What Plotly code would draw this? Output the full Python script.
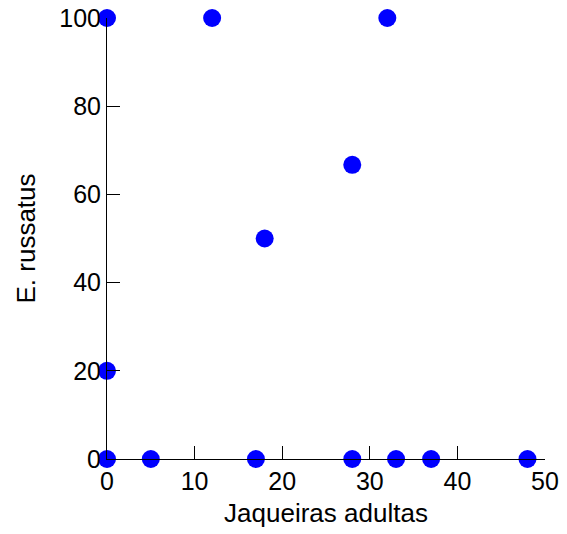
import plotly.graph_objects as go

jaqueiras = [0, 12, 32, 18, 28, 0, 0, 5, 17, 28, 33, 37, 48]
russatus = [100, 100, 100, 50, 66.7, 20, 0, 0, 0, 0, 0, 0, 0]

x_ticks = [0, 10, 20, 30, 40, 50]
y_ticks = [0, 20, 40, 60, 80, 100]

fig = go.Figure(go.Scatter(
    x=jaqueiras, y=russatus, mode="markers",
    marker=dict(color="#0000ff", size=18, line=dict(width=0)),
    cliponaxis=False,
))

font = dict(family="Liberation Sans, Arial, sans-serif", size=26, color="black")
fig.update_layout(
    width=567, height=534,
    margin=dict(l=107, r=22, t=18, b=75),
    plot_bgcolor="white", paper_bgcolor="white",
    showlegend=False,
    font=font,
)
fig.update_xaxes(
    range=[0, 50], tickvals=x_ticks, ticks="inside", ticklen=13, tickcolor="black",
    showline=True, linecolor="black", linewidth=1, showgrid=False, zeroline=False,
    automargin=False,
    title=dict(text="Jaqueiras adultas", font=dict(size=26), standoff=9),
    tickfont=dict(size=25),
)
fig.update_yaxes(
    range=[0, 100], tickvals=y_ticks, ticks="inside", ticklen=13, tickcolor="black",
    showline=True, linecolor="black", linewidth=1, showgrid=False, zeroline=False,
    automargin=False,
    title=dict(text="E. russatus", font=dict(size=26), standoff=16),
    tickfont=dict(size=25),
)
fig.write_html("out.html")
